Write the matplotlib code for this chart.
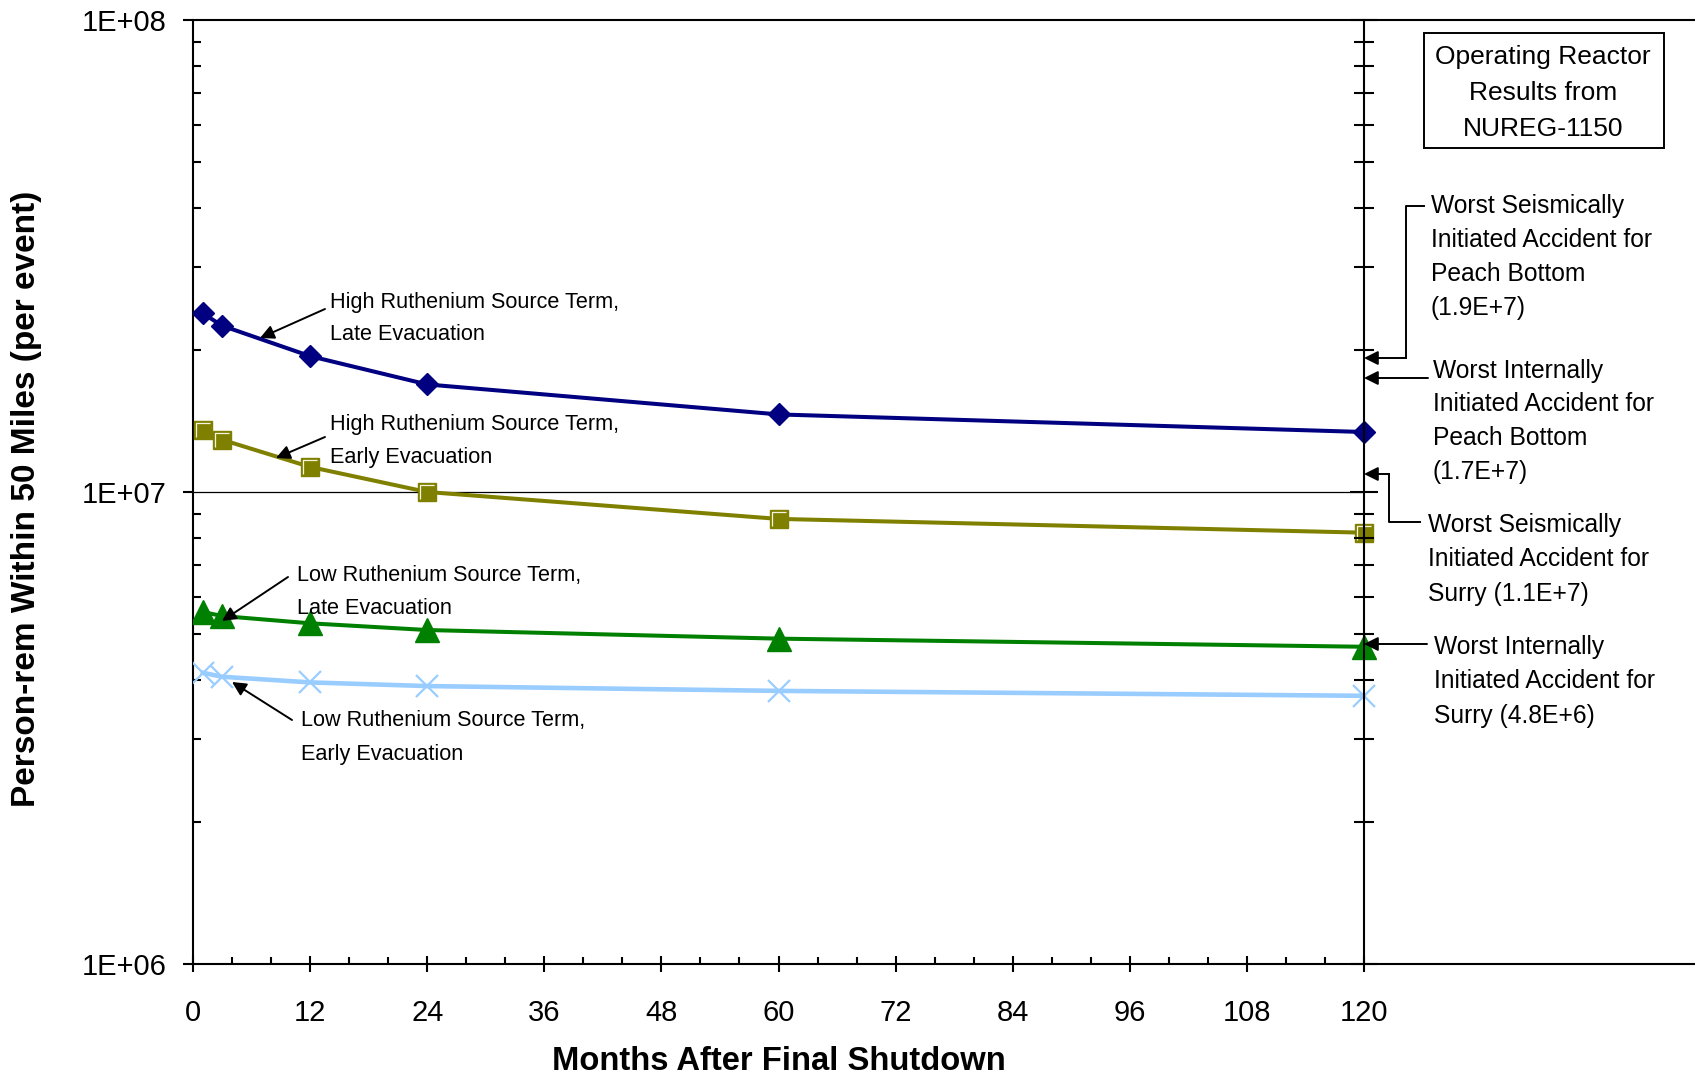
import numpy as np
import matplotlib
matplotlib.use('Agg')
import matplotlib.pyplot as plt
from matplotlib.path import Path
from matplotlib.patches import Rectangle, FancyArrowPatch
from matplotlib.lines import Line2D
from matplotlib.ticker import FixedLocator, NullFormatter

# values
months = [1, 3, 12, 24, 60, 120]
high_late = [2.39e7, 2.25e7, 1.94e7, 1.69e7, 1.46e7, 1.34e7]
high_early = [1.35e7, 1.29e7, 1.13e7, 1.0e7, 8.77e6, 8.2e6]
low_late = [5.57e6, 5.46e6, 5.27e6, 5.10e6, 4.89e6, 4.70e6]
low_early = [4.14e6, 4.06e6, 3.95e6, 3.88e6, 3.79e6, 3.70e6]

x_ticks = list(range(0, 121, 12))
x_minor = [m for m in range(4, 120, 4) if m % 12]
y_ticks = [1e6, 1e7, 1e8]
y_tick_labels = ['1E+06', '1E+07', '1E+08']

plt.rcParams['font.family'] = ['Liberation Sans', 'DejaVu Sans']

W, H = 1695, 1079
fig = plt.figure(figsize=(W / 100, H / 100), dpi=100)

def fx(x):
    return x / W

def fy(y):
    return 1 - y / H

# axes frame in pixels (top-left origin)
L, R, T, B = 193, 1695, 20, 964
X120 = 1364
xmax = 120 * (R - L) / (X120 - L)

ax = fig.add_axes([fx(L), fy(B), (R - L) / W, (B - T) / H])
ax.set_yscale('log')
ax.set_ylim(1e6, 1e8)
ax.set_xlim(0, xmax)
ax.spines['right'].set_visible(False)
for s in ['left', 'top', 'bottom']:
    ax.spines[s].set_linewidth(1.5)

ax.yaxis.set_major_locator(FixedLocator(y_ticks))
ax.set_yticklabels(y_tick_labels)
ax.yaxis.set_minor_formatter(NullFormatter())
ax.xaxis.set_major_locator(FixedLocator(x_ticks))
ax.xaxis.set_minor_locator(FixedLocator(x_minor))
ax.tick_params(axis='y', which='major', direction='out', length=7.2, width=1.5, labelsize=21, pad=11.5)
ax.tick_params(axis='y', which='minor', direction='in', length=5.5, width=1.5)
ax.tick_params(axis='x', which='major', direction='inout', length=12, width=1.5, labelsize=21, pad=19)
ax.tick_params(axis='x', which='minor', direction='in', length=5, width=1.5)

ax.hlines(y_ticks[1], 0, months[-1], color='black', lw=0.9, zorder=1)

# second vertical axis at month 120
ax2 = fig.add_axes([fx(X120), fy(B), 0.0005, (B - T) / H])
ax2.set_yscale('log')
ax2.set_ylim(1e6, 1e8)
ax2.patch.set_visible(False)
for s in ['right', 'top', 'bottom']:
    ax2.spines[s].set_visible(False)
ax2.spines['left'].set_linewidth(1.5)
ax2.set_xticks([])
ax2.yaxis.set_major_locator(FixedLocator(y_ticks))
ax2.tick_params(axis='y', which='major', direction='inout', length=20, width=1.5, labelleft=False)
ax2.tick_params(axis='y', which='minor', direction='inout', length=15, width=1.5, labelleft=False)

# series
ax.plot(months, high_late, color='#000080', lw=2.9, marker='D', ms=11.5, zorder=3)
ax.plot(months, high_early, color='#808000', lw=2.9, marker='s', ms=13, zorder=3)
# light bevel on the top/left edge of the square markers
bevel = Path([(-0.5, -0.5), (-0.5, 0.5), (0.5, 0.5)], [Path.MOVETO, Path.LINETO, Path.LINETO])
ax.plot(months, high_early, ls='none', marker=bevel, ms=10, mfc='none', mec='#f4f4e0', mew=0.9, zorder=4)
ax.plot(months, low_late, color='#008000', lw=2.9, marker='^', ms=17, zorder=3)
ax.plot(months, low_early, color='#99CCFF', lw=3.3, marker='x', ms=16, mew=1.6, zorder=3)

# axis titles
fig.text(fx((L + X120) / 2), fy(1061), 'Months After Final Shutdown', fontsize=23.6,
         fontweight='bold', ha='center', va='center')
fig.text(fx(27), fy(499), 'Person-rem Within 50 Miles (per event)', fontsize=24,
         fontweight='bold', ha='center', va='center', rotation=90)


def note(x, y0, lines, size, step, ha='left'):
    for i, s in enumerate(lines):
        fig.text(fx(x), fy(y0 + i * step), s, fontsize=size, ha=ha, va='baseline')


def arrow(pts):
    # pts: pixel polyline, arrow head at the last point
    if len(pts) > 2:
        xs = [fx(p[0]) for p in pts[:-1]]
        ys = [fy(p[1]) for p in pts[:-1]]
        fig.add_artist(Line2D(xs, ys, color='black', lw=1.4, transform=fig.transFigure))
    (x0, y0), (x1, y1) = pts[-2], pts[-1]
    fig.add_artist(FancyArrowPatch(
        (fx(x0), fy(y0)), (fx(x1), fy(y1)), transform=fig.transFigure,
        arrowstyle='-|>', mutation_scale=21, color='black', lw=1.4,
        shrinkA=0, shrinkB=0))


note(330, 308, ['High Ruthenium Source Term,', 'Late Evacuation'], 15.6, 32)
note(330, 430, ['High Ruthenium Source Term,', 'Early Evacuation'], 15.6, 33)
note(297, 581, ['Low Ruthenium Source Term,', 'Late Evacuation'], 15.6, 33)
note(301, 726, ['Low Ruthenium Source Term,', 'Early Evacuation'], 15.6, 34)
arrow([(325, 309), (260, 338)])
arrow([(325, 437), (276, 458)])
arrow([(288, 577), (222, 621)])
arrow([(292, 720), (232, 682)])

note(1543, 64, ['Operating Reactor', 'Results from', 'NUREG-1150'], 19, 36, ha='center')
fig.add_artist(Rectangle((fx(1424), fy(148)), (1664 - 1424) / W, (148 - 33) / H,
                         fill=False, edgecolor='black', lw=1.4, transform=fig.transFigure))

note(1431, 213, ['Worst Seismically', 'Initiated Accident for', 'Peach Bottom', '(1.9E+7)'], 17.7, 34)
note(1433, 378, ['Worst Internally', 'Initiated Accident for', 'Peach Bottom', '(1.7E+7)'], 17.7, 33.5)
note(1428, 532, ['Worst Seismically', 'Initiated Accident for', 'Surry (1.1E+7)'], 17.7, 34.5)
note(1434, 654, ['Worst Internally', 'Initiated Accident for', 'Surry (4.8E+6)'], 17.7, 34.5)
arrow([(1424, 206), (1406, 206), (1406, 358), (1364, 358)])
arrow([(1428, 378), (1364, 378)])
arrow([(1420, 522), (1389, 522), (1389, 474), (1364, 474)])
arrow([(1427, 644), (1364, 644)])

fig.savefig('out.png', dpi=100)
